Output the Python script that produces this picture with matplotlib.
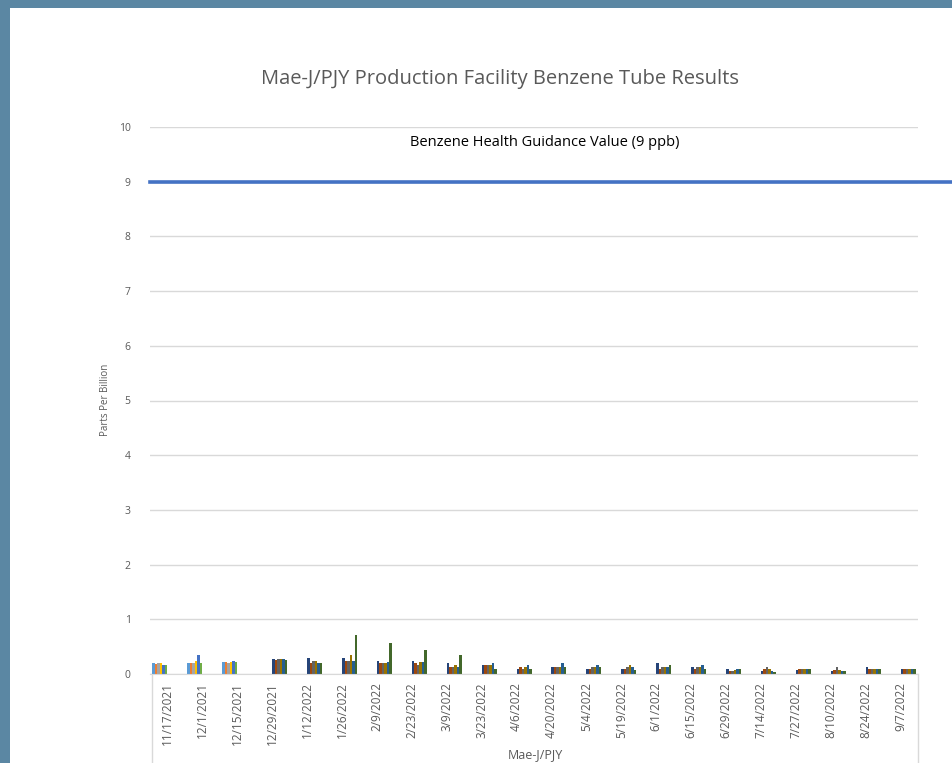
import numpy as np
import matplotlib
matplotlib.use("Agg")
import matplotlib.pyplot as plt
from matplotlib.patches import Rectangle
from matplotlib.lines import Line2D

plt.rcParams['font.family'] = ['Open Sans', 'DejaVu Sans']

dates = ["11/17/2021", "12/1/2021", "12/15/2021", "12/29/2021", "1/12/2022", "1/26/2022",
         "2/9/2022", "2/23/2022", "3/9/2022", "3/23/2022", "4/6/2022", "4/20/2022",
         "5/4/2022", "5/19/2022", "6/1/2022", "6/15/2022", "6/29/2022", "7/14/2022",
         "7/27/2022", "8/10/2022", "8/24/2022", "9/7/2022"]

# first six series (sampled only on the first three dates)
s1 = [0.21, 0.21, 0.22]
s2 = [0.18, 0.20, 0.22]
s3 = [0.20, 0.20, 0.20]
s4 = [0.21, 0.24, 0.22]
s5 = [0.16, 0.35, 0.24]
s6 = [0.16, 0.20, 0.22]

# second six series (sampled from 12/29/2021 on)
s7  = [0.28, 0.29, 0.29, 0.24, 0.23, 0.20, 0.16, 0.10, 0.13, 0.10, 0.10, 0.20, 0.13, 0.09, 0.06, 0.08, 0.06, 0.12, 0.10]
s8  = [0.25, 0.20, 0.23, 0.20, 0.20, 0.13, 0.16, 0.13, 0.13, 0.10, 0.10, 0.09, 0.10, 0.06, 0.09, 0.09, 0.08, 0.10, 0.10]
s9  = [0.27, 0.23, 0.23, 0.20, 0.16, 0.13, 0.16, 0.10, 0.13, 0.12, 0.12, 0.12, 0.13, 0.06, 0.13, 0.09, 0.13, 0.10, 0.10]
s10 = [0.28, 0.24, 0.35, 0.21, 0.22, 0.16, 0.16, 0.13, 0.13, 0.13, 0.16, 0.13, 0.13, 0.07, 0.10, 0.09, 0.08, 0.10, 0.10]
s11 = [0.28, 0.20, 0.23, 0.22, 0.22, 0.13, 0.20, 0.16, 0.20, 0.16, 0.13, 0.13, 0.16, 0.09, 0.06, 0.09, 0.06, 0.10, 0.10]
s12 = [0.25, 0.20, 0.71, 0.56, 0.43, 0.34, 0.09, 0.10, 0.12, 0.13, 0.08, 0.16, 0.10, 0.10, 0.04, 0.09, 0.06, 0.10, 0.10]

series = [s1, s2, s3, s4, s5, s6, s7, s8, s9, s10, s11, s12]
colors = ["#5B9BD5", "#ED7D31", "#A5A5A5", "#FFC000", "#4472C4", "#70AD47",
          "#264478", "#9E480E", "#636363", "#997300", "#255E91", "#43682B"]

guidance = 9.0
guidance_label = "Benzene Health Guidance Value (9 ppb)"

W, H = 953, 763
fig = plt.figure(figsize=(W / 100, H / 100), dpi=100)
fig.patch.set_facecolor("#5B87A3")
fig.patches.append(Rectangle((10 / W, 0), 1, (H - 8) / H, transform=fig.transFigure,
                             facecolor="white", edgecolor="none", zorder=-10))

ax = fig.add_axes([150 / W, 89 / H, 768 / W, 547 / H])
ax.set_facecolor("none")

n = len(dates)
x = np.arange(n)
group = 0.86
w = group / len(series)
for j, (vals, c) in enumerate(zip(series, colors)):
    full = np.full(n, np.nan)
    if j < 6:
        full[:len(vals)] = vals
    else:
        full[3:3 + len(vals)] = vals
    offs = -group / 2 + (j + 0.5) * w
    ax.bar(x + offs, full, width=w, color=c, zorder=3, linewidth=0)

ax.set_xlim(-0.5, n - 0.5)
ax.set_ylim(0, 10)
ax.set_yticks(range(0, 11))
ax.set_yticklabels([str(v) for v in range(0, 11)], fontsize=7.5, color="#595959")
ax.set_xticks(x)
ax.set_xticklabels(dates, rotation=90, fontsize=8.5, color="#595959")
ax.tick_params(axis="y", length=0, pad=14)
ax.tick_params(axis="x", length=0, pad=6)
ax.grid(axis="y", color="#D9D9D9", linewidth=1, zorder=0)
for s in ["top", "left", "right"]:
    ax.spines[s].set_visible(False)
ax.spines["bottom"].set_color("#D9D9D9")
ax.spines["bottom"].set_zorder(4)

# category axis box lines
for xx in (0.003, 1.0):
    ax.add_line(Line2D([xx, xx], [0, -0.2], transform=ax.transAxes, color="#D9D9D9",
                       linewidth=1, clip_on=False))

ax.axhline(guidance, xmin=0, xmax=(953 - 150) / 768, color="#4472C4", linewidth=2.6,
           clip_on=False, zorder=5)
ax.text(0.514, 9.72, guidance_label, transform=ax.get_yaxis_transform(),
        ha="center", va="center", fontsize=10.5, color="#000000")

fig.text(106 / W, 1 - 400 / H, "Parts Per Billion", rotation=90, ha="center", va="center",
         fontsize=7, color="#595959")
fig.text(500 / W, 1 - 79 / H, "Mae-J/PJY Production Facility Benzene Tube Results",
         ha="center", va="center", fontsize=14.5, color="#595959")
fig.text(535 / W, 1 - 755 / H, "Mae-J/PJY", ha="center", va="center", fontsize=9,
         color="#595959")

fig.savefig("out.png", dpi=100)
